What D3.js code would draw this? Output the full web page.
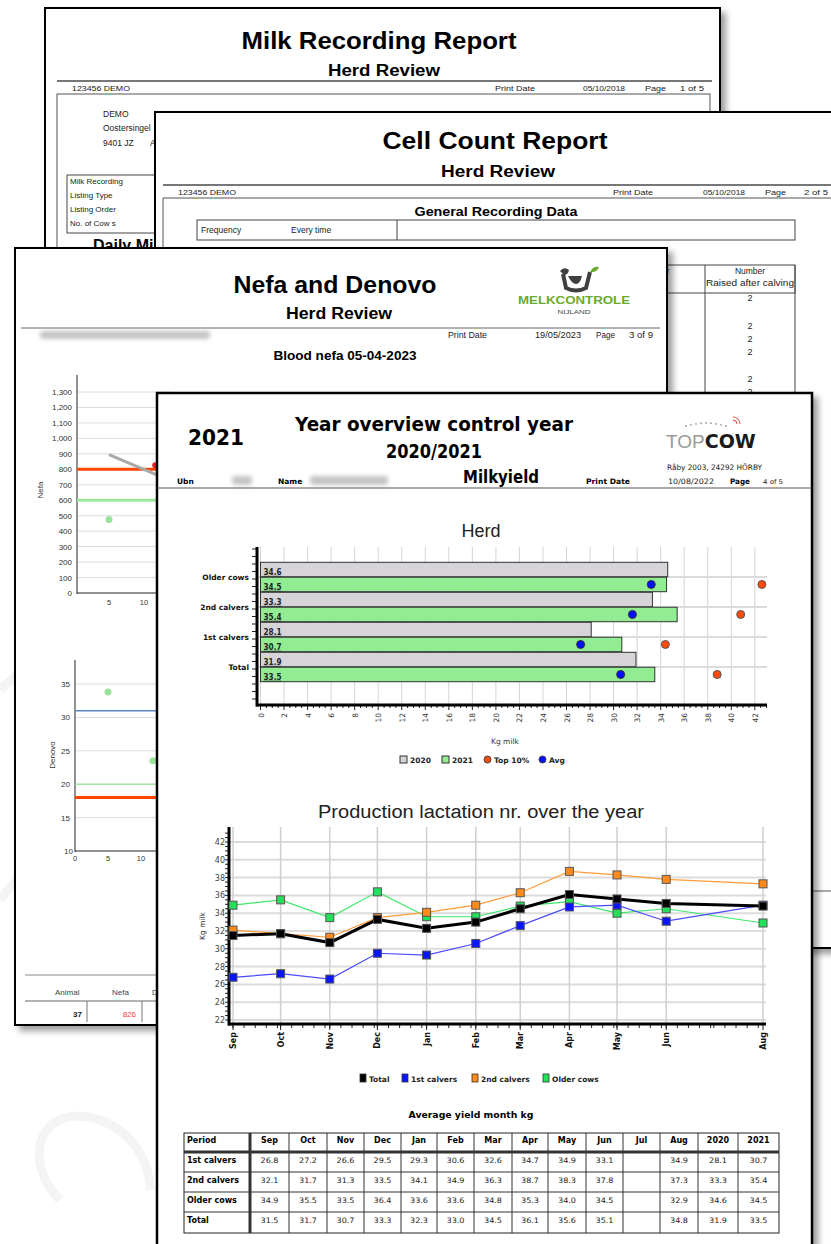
<!DOCTYPE html>
<html><head><meta charset="utf-8">
<script src="https://cdn.jsdelivr.net/npm/d3@7"></script>
<style>body{margin:0;background:#fff}svg{display:block}</style>
</head><body>
<svg id="c" width="831" height="1244"></svg>
<script>
// ---------------- DATA ----------------
const herdCategories = ["Older cows", "2nd calvers", "1st calvers", "Total"];
const herdYears = ["2020", "2021"];
const herd2020 = [34.6, 33.3, 28.1, 31.9];
const herd2021 = [34.5, 35.4, 30.7, 33.5];
const herdTop10 = [42.6, 40.8, 34.4, 38.8];
const herdAvg = [33.2, 31.6, 27.2, 30.6];
const herdTicks = [0,2,4,6,8,10,12,14,16,18,20,22,24,26,28,30,32,34,36,38,40,42];

const months = ["Sep","Oct","Nov","Dec","Jan","Feb","Mar","Apr","May","Jun","Jul","Aug"];
const monthDates = ["2020-09-01","2020-10-01","2020-11-01","2020-12-01","2021-01-01","2021-02-01","2021-03-01","2021-04-01","2021-05-01","2021-06-01","2021-07-01","2021-08-01"];
const seriesNames = ["Total", "1st calvers", "2nd calvers", "Older cows"];
const totalVals  = [31.5, 31.7, 30.7, 33.3, 32.3, 33.0, 34.5, 36.1, 35.6, 35.1, null, 34.8];
const firstVals  = [26.8, 27.2, 26.6, 29.5, 29.3, 30.6, 32.6, 34.7, 34.9, 33.1, null, 34.9];
const secondVals = [32.1, 31.7, 31.3, 33.5, 34.1, 34.9, 36.3, 38.7, 38.3, 37.8, null, 37.3];
const olderVals  = [34.9, 35.5, 33.5, 36.4, 33.6, 33.6, 34.8, 35.3, 34.0, 34.5, null, 32.9];
const prodTicks = [22,24,26,28,30,32,34,36,38,40,42];

const tableRows = ["1st calvers", "2nd calvers", "Older cows", "Total"];
const tableCols = ["Sep","Oct","Nov","Dec","Jan","Feb","Mar","Apr","May","Jun","Jul","Aug","2020","2021"];

const nefaTicks = [0,100,200,300,400,500,600,700,800,900,1000,1100,1200,1300];
const nefaDots = [[5, 475]];
const nefaRedDot = [[11.6, 826]];
const nefaTrend = [[5, 895], [12, 760]];
const nefaLimits = [800, 600];
const denovoTicks = [10,15,20,25,30,35];
const denovoDots = [[5, 33.8], [11.8, 23.5]];
const denovoLimits = [31, 20, 18];
const nefaXTicks = [5, 10];
const denovoXTicks = [0, 5, 10];

// ---------------- SETUP ----------------
const F = "Liberation Sans, Arial, sans-serif";
const T = "DejaVu Sans, Verdana, sans-serif";
const svg = d3.select("#c");
const defs = svg.append("defs");
const sh = defs.append("filter").attr("id","shadow").attr("x","-10%").attr("y","-10%").attr("width","125%").attr("height","125%");
sh.append("feDropShadow").attr("dx",5).attr("dy",5).attr("stdDeviation",3).attr("flood-color","#000").attr("flood-opacity",0.38);
defs.append("filter").attr("id","blur").attr("x","-20%").attr("y","-60%").attr("width","140%").attr("height","220%")
  .append("feGaussianBlur").attr("stdDeviation",2.2);

function txt(g, x, y, s, o = {}) {
  const t = g.append("text").attr("x", x).attr("y", y).text(s)
    .attr("font-family", o.ff || F).attr("font-size", o.fs || 8)
    .attr("font-weight", o.fw || "normal").attr("fill", o.fill || "#222")
    .attr("text-anchor", o.anchor || "start");
  if (o.w) t.attr("textLength", o.w).attr("lengthAdjust", "spacingAndGlyphs");
  if (o.ls) t.attr("letter-spacing", o.ls);
  return t;
}
function line(g, x1, y1, x2, y2, c, w) {
  return g.append("line").attr("x1",x1).attr("y1",y1).attr("x2",x2).attr("y2",y2).attr("stroke",c).attr("stroke-width",w);
}
function page(x, y, w, h, sw) {
  const g = svg.append("g");
  g.append("rect").attr("x",x).attr("y",y).attr("width",w).attr("height",h)
    .attr("fill","#fff").attr("stroke","#000").attr("stroke-width",sw).attr("filter","url(#shadow)");
  return g;
}
function blurBox(g, x, y, w, h) {
  g.append("rect").attr("x",x).attr("y",y).attr("width",w).attr("height",h).attr("rx",3)
    .attr("fill","#c4c4c4").attr("filter","url(#blur)");
}

// faint background decoration
const deco = svg.append("g").attr("fill","none").attr("stroke","#f4f4f4").attr("stroke-width",9);
deco.append("path").attr("d","M0,690 C40,650 90,640 110,700 C130,760 60,800 20,780");
deco.append("path").attr("d","M0,900 C30,860 70,830 110,860");
deco.append("path").attr("d","M60,1200 C20,1160 40,1100 100,1120 C140,1135 150,1170 150,1190");

// ---------------- PAGE 1: Milk Recording ----------------
const p1 = page(45, 8, 675, 262, 2);
txt(p1, 379, 49, "Milk Recording Report", {fs:24, fw:"bold", anchor:"middle", w:275, fill:"#000"});
txt(p1, 384, 76, "Herd Review", {fs:16, fw:"bold", anchor:"middle", w:112, fill:"#000"});
line(p1, 57, 81, 712, 81, "#777", 2);
txt(p1, 72, 91, "123456   DEMO", {fs:8, w:58});
txt(p1, 495, 91, "Print Date", {fs:8, w:40});
txt(p1, 583, 91, "05/10/2018", {fs:8, w:42});
txt(p1, 645, 91, "Page", {fs:8, w:21});
txt(p1, 680, 91, "1 of 5", {fs:8, w:24});
p1.append("rect").attr("x",57).attr("y",94).attr("width",653).attr("height",200).attr("fill","none").attr("stroke","#555").attr("stroke-width",1);
txt(p1, 103, 117, "DEMO", {fs:8.5});
txt(p1, 103, 131, "Oostersingel", {fs:8.5});
txt(p1, 103, 146, "9401 JZ", {fs:8.5});
txt(p1, 150, 146, "A", {fs:8.5});
p1.append("rect").attr("x",67).attr("y",175).attr("width",110).attr("height",58).attr("fill","none").attr("stroke","#444").attr("stroke-width",1);
["Milk Recording","Listing Type","Listing Order","No. of Cow s"].forEach((s,i)=>txt(p1, 70, 184 + i*14, s, {fs:8}));
txt(p1, 93, 251, "Daily Milk", {fs:16, fw:"bold", fill:"#000"});

// ---------------- PAGE 2: Cell Count ----------------
const p2 = page(155, 112, 700, 836, 2);
txt(p2, 495, 149, "Cell Count Report", {fs:24, fw:"bold", anchor:"middle", w:225, fill:"#000"});
txt(p2, 498, 177, "Herd Review", {fs:16, fw:"bold", anchor:"middle", w:114, fill:"#000"});
line(p2, 163, 185, 845, 185, "#777", 2);
txt(p2, 178, 195, "123456   DEMO", {fs:8, w:58});
txt(p2, 613, 195, "Print Date", {fs:8, w:40});
txt(p2, 703, 195, "05/10/2018", {fs:8, w:42});
txt(p2, 765, 195, "Page", {fs:8, w:21});
txt(p2, 804, 195, "2 of 5", {fs:8, w:24});
line(p2, 163, 198, 845, 198, "#555", 1);
line(p2, 163, 198, 163, 940, "#555", 1);
txt(p2, 496, 216, "General Recording Data", {fs:12, fw:"bold", anchor:"middle", w:163, fill:"#000"});
p2.append("rect").attr("x",197).attr("y",220).attr("width",598).attr("height",20).attr("fill","none").attr("stroke","#444").attr("stroke-width",1);
line(p2, 397, 220, 397, 240, "#444", 1);
txt(p2, 201, 233, "Frequency", {fs:8.5});
txt(p2, 291, 233, "Every time", {fs:8.5});
// right table
p2.append("rect").attr("x",600).attr("y",265).attr("width",195).attr("height",28).attr("fill","none").attr("stroke","#444").attr("stroke-width",1);
line(p2, 705, 265, 705, 420, "#444", 1);
line(p2, 795, 265, 795, 420, "#444", 1);
txt(p2, 662, 274, "er", {fs:8.5});
txt(p2, 750, 274, "Number", {fs:8.5, anchor:"middle"});
txt(p2, 750, 286, "Raised after calving", {fs:8.5, anchor:"middle", w:88});
[298, 326, 339, 352, 379, 392].forEach(y => txt(p2, 750, y + 3, "2", {fs:9, anchor:"middle"}));
line(p2, 163, 891, 845, 891, "#555", 1);

// ---------------- PAGE 3: Nefa and Denovo ----------------
const p3 = page(15, 248, 652, 777, 2);
txt(p3, 335, 293, "Nefa and Denovo", {fs:24, fw:"bold", anchor:"middle", w:203, fill:"#000"});
txt(p3, 339, 319, "Herd Review", {fs:16, fw:"bold", anchor:"middle", w:106, fill:"#000"});
// logo
const lg = p3.append("g");
lg.append("path").attr("d","M563,274 L566,288 Q576,293 586,288 L590,272").attr("fill","none").attr("stroke","#3f3f3f").attr("stroke-width",4);
lg.append("path").attr("d","M560,271 q4,-5 9,-1 q-1,5 -5,5 z").attr("fill","#3f3f3f");
lg.append("path").attr("d","M568,276 q4,8 8,8 q4,0 6,-8 z").attr("fill","#3f3f3f");
lg.append("path").attr("d","M590,272 q3,-6 9,-5 q-2,6 -9,5 z").attr("fill","#6aaa2a");
txt(lg, 518, 304, "MELKCONTROLE", {fs:11, fw:"bold", fill:"#6aaa2a", w:112});
txt(lg, 574, 314, "NIJLAND", {fs:5.5, anchor:"middle", fill:"#444", w:33});
line(p3, 21, 328, 660, 328, "#666", 1);
blurBox(p3, 40, 331, 170, 8);
txt(p3, 448, 338, "Print Date", {fs:8.5, w:39});
txt(p3, 535, 338, "19/05/2023", {fs:8.5, w:46});
txt(p3, 596, 338, "Page", {fs:8.5, w:19});
txt(p3, 629, 338, "3 of 9", {fs:8.5, w:24});
txt(p3, 345, 360, "Blood nefa 05-04-2023", {fs:13, fw:"bold", anchor:"middle", w:143, fill:"#000"});

// Nefa chart
const nx = d3.scaleLinear().domain([0, 10]).range([74, 144]);
const ny = d3.scaleLinear().domain([0, 1300]).range([593, 392]);
nefaTicks.forEach(v => {
  if (v > 0) line(p3, 77, ny(v), 170, ny(v), "#dedede", 1);
  txt(p3, 72, ny(v) + 3, d3.format(",")(v), {fs:8, anchor:"end", fill:"#333"});
});
line(p3, 77, 375, 77, 594, "#222", 1);
line(p3, 77, 593, 170, 593, "#222", 1);
nefaXTicks.forEach(v => txt(p3, nx(v), 605, String(v), {fs:7.5, anchor:"middle", fill:"#333"}));
line(p3, 77, ny(nefaLimits[0]), 170, ny(nefaLimits[0]), "#ff4500", 3);
line(p3, 77, ny(nefaLimits[1]), 170, ny(nefaLimits[1]), "#9be89b", 3);
p3.append("path").datum(nefaTrend).attr("d", d3.line().x(d=>nx(d[0])).y(d=>ny(d[1])))
  .attr("fill","none").attr("stroke","#a9a9a9").attr("stroke-width",3);
p3.selectAll(".nd").data(nefaDots).join("circle").attr("cx",d=>nx(d[0])).attr("cy",d=>ny(d[1])).attr("r",3.5).attr("fill","#9be29b");
p3.selectAll(".nr").data(nefaRedDot).join("circle").attr("cx",d=>nx(d[0])).attr("cy",d=>ny(d[1])).attr("r",3).attr("fill","#e8202a");
txt(p3, 0, 0, "Nefa", {fs:8, anchor:"middle", fill:"#333"}).attr("transform","translate(43,490) rotate(-90)");

// Denovo chart
const dx = d3.scaleLinear().domain([0, 10]).range([75, 141]);
const dy = d3.scaleLinear().domain([10, 35]).range([851, 684]);
denovoTicks.forEach(v => {
  if (v > 10) line(p3, 75, dy(v), 170, dy(v), "#dedede", 1);
  txt(p3, v === 10 ? 73 : 70, dy(v) + 3, String(v), {fs:8, anchor:"end", fill:"#333"});
});
line(p3, 75, 660, 75, 852, "#222", 1);
line(p3, 75, 851, 170, 851, "#222", 1);
denovoXTicks.forEach(v => txt(p3, dx(v), 861, String(v), {fs:7.5, anchor:"middle", fill:"#333"}));
line(p3, 75, dy(denovoLimits[0]), 170, dy(denovoLimits[0]), "#5b85c0", 1.5);
line(p3, 75, dy(denovoLimits[1]), 170, dy(denovoLimits[1]), "#a6e3a6", 1.5);
line(p3, 75, dy(denovoLimits[2]), 170, dy(denovoLimits[2]), "#ff4500", 3);
p3.selectAll(".dd").data(denovoDots).join("circle").attr("cx",d=>dx(d[0])).attr("cy",d=>dy(d[1])).attr("r",3.5).attr("fill","#9be29b");
txt(p3, 0, 0, "Denovo", {fs:8, anchor:"middle", fill:"#333"}).attr("transform","translate(55,755) rotate(-90)");

// bottom table of page 3
line(p3, 25, 975, 660, 975, "#888", 1);
txt(p3, 55, 995, "Animal", {fs:8, fill:"#444"});
txt(p3, 112, 995, "Nefa", {fs:8, fill:"#444"});
txt(p3, 152, 995, "D", {fs:8, fill:"#444"});
line(p3, 25, 1001, 660, 1001, "#666", 1);
line(p3, 87, 1001, 87, 1022, "#777", 1);
line(p3, 142, 1001, 142, 1022, "#777", 1);
txt(p3, 82, 1017, "37", {fs:8, fw:"bold", anchor:"end"});
txt(p3, 136, 1017, "826", {fs:8, anchor:"end", fill:"#ff3b3b"});

// ---------------- PAGE 4: Year overview ----------------
const p4 = page(157, 393, 655, 880, 2.5);
txt(p4, 188, 445, "2021", {ff:T, fs:22, fw:"bold", w:56, fill:"#000"});
txt(p4, 434, 431, "Year overview control year", {ff:T, fs:19, fw:"bold", anchor:"middle", w:278, fill:"#000"});
txt(p4, 434, 458, "2020/2021", {ff:T, fs:19, fw:"bold", anchor:"middle", w:96, fill:"#000"});
// topcow logo
const tc = p4.append("g");
d3.range(9).forEach(i => tc.append("circle").attr("cx", 686 + i*5).attr("cy", 426 - Math.sin(i/8*Math.PI)*3).attr("r",0.9).attr("fill","#999"));
tc.append("path").attr("d","M733,420 a4,4 0 0 1 4,4 M733,417 a7,7 0 0 1 7,7").attr("fill","none").attr("stroke","#e0443a").attr("stroke-width",1);
const tct = txt(tc, 666, 448, "", {ff:T, fs:19});
tct.append("tspan").text("TOP").attr("fill","#9a9a9a").attr("font-weight","normal").attr("font-family",F);
tct.append("tspan").text("COW").attr("fill","#1a1a1a").attr("font-weight","bold");
txt(p4, 667, 470, "Råby 2003, 24292 HÖRBY", {ff:T, fs:7.5, w:95});
txt(p4, 177, 484, "Ubn", {ff:T, fs:7.5, fw:"bold", fill:"#000"});
blurBox(p4, 232, 476, 20, 9);
txt(p4, 278, 484, "Name", {ff:T, fs:7.5, fw:"bold", fill:"#000"});
blurBox(p4, 310, 476, 78, 9);
txt(p4, 463, 483, "Milkyield", {ff:T, fs:17, fw:"bold", w:76, fill:"#000"});
txt(p4, 586, 484, "Print Date", {ff:T, fs:7.5, fw:"bold", w:44, fill:"#000"});
txt(p4, 668, 484, "10/08/2022", {ff:T, fs:7.5, w:46});
txt(p4, 730, 484, "Page", {ff:T, fs:7.5, fw:"bold", w:20, fill:"#000"});
txt(p4, 763, 484, "4 of 5", {ff:T, fs:6.5, w:20});
line(p4, 157, 488, 812, 488, "#555", 1);

// ---- Herd chart ----
txt(p4, 481, 537, "Herd", {fs:18, anchor:"middle", fill:"#222"});
const hx = d3.scaleLinear().domain([0, 43]).range([260.5, 766.6]);
const hy = d3.scaleBand().domain(herdCategories).range([562, 682]);
const hsub = d3.scaleBand().domain(herdYears).range([0, hy.bandwidth()]).paddingInner(0.03).paddingOuter(0.02);
const hg = p4.append("g");
herdTicks.forEach(v => line(hg, hx(v), 547, hx(v), 705, "#d4d4d4", 1));
herdCategories.forEach(c => line(hg, 257, hy(c) + hy.bandwidth()/2, 767, hy(c) + hy.bandwidth()/2, "#dcdcdc", 2));
const herdRows = herdCategories.map((c,i) => ({c, vals:[herd2020[i], herd2021[i]], top:herdTop10[i], avg:herdAvg[i]}));
herdRows.forEach(r => {
  r.vals.forEach((v, j) => {
    const y = hy(r.c) + hsub(herdYears[j]);
    hg.append("rect").attr("x", hx(0)).attr("y", y).attr("width", hx(v) - hx(0)).attr("height", hsub.bandwidth())
      .attr("fill", j === 0 ? "#d6d4d8" : "#92ec92").attr("stroke","#333").attr("stroke-width",1);
    txt(hg, hx(0) + 3, y + hsub.bandwidth() - 1.5, v.toFixed(1), {ff:T, fs:8, fw:"bold", fill:"#222", w:18});
    line(hg, hx(0) + 3, y + hsub.bandwidth() - 0.5, hx(0) + 21, y + hsub.bandwidth() - 0.5, "#333", 0.8);
  });
  const cy = hy(r.c) + hsub("2021") + hsub.bandwidth()/2;
  hg.append("circle").attr("cx", hx(r.top)).attr("cy", cy).attr("r",4).attr("fill","#ff4a0a").attr("stroke","#555").attr("stroke-width",1);
  hg.append("circle").attr("cx", hx(r.avg)).attr("cy", cy).attr("r",4).attr("fill","#0010ff").attr("stroke","#333").attr("stroke-width",1);
  txt(hg, 249, hy(r.c) + hy.bandwidth()/2 + 3, r.c, {ff:T, fs:7.5, fw:"bold", anchor:"end", fill:"#111"});
});
// axes
d3.range(0, 43.01, 0.5).forEach(v => line(hg, hx(v), 705, hx(v), v % 2 === 0 ? 710 : 708, "#222", 1));
d3.range(549, 705, 7.5).forEach(y => line(hg, 252, y, 257, y, "#222", 1));
line(hg, 257, 547, 257, 706.5, "#000", 3);
line(hg, 256, 705, 767, 705, "#000", 3);
herdTicks.forEach(v => txt(hg, 0, 0, String(v), {ff:T, fs:7.5, anchor:"end", fill:"#333"})
  .attr("transform", `translate(${hx(v) + 3},713) rotate(-90)`));
txt(hg, 505, 744, "Kg milk", {ff:T, fs:7.5, anchor:"middle", fill:"#333"});
// legend
const hl = [["2020","rect","#d6d4d8",400],["2021","rect","#92ec92",442],["Top 10%","circ","#ff4a0a",484],["Avg","circ","#0010ff",539]];
hl.forEach(([s,k,c,x]) => {
  if (k === "rect") hg.append("rect").attr("x",x).attr("y",756).attr("width",7).attr("height",7).attr("fill",c).attr("stroke","#333");
  else hg.append("circle").attr("cx",x+3.5).attr("cy",759.5).attr("r",3.5).attr("fill",c).attr("stroke","#444");
  txt(hg, x + 10, 763, s, {ff:T, fs:7.5, fw:"bold", fill:"#222"});
});

// ---- Production lactation chart ----
txt(p4, 481, 818, "Production lactation nr. over the year", {fs:18, anchor:"middle", fill:"#222", w:326});
const dates = monthDates.map(d => new Date(d + "T00:00:00Z"));
const px = d3.scaleUtc().domain([dates[0], dates[11]]).range([233, 763]);
const py = d3.scaleLinear().domain([22, 42]).range([1020, 842]);
const pg = p4.append("g");
prodTicks.forEach(v => line(pg, 229, py(v), 766, py(v), "#dcdcdc", 2));
months.forEach((m,i) => { if (m !== "Jul") line(pg, px(dates[i]), 827, px(dates[i]), 1024, "#cfcfcf", 1.5); });
// minor ticks
d3.utcDay.every(7).range(dates[0], dates[11]).forEach(d => line(pg, px(d), 1024, px(d), 1028, "#222", 1));
months.forEach((m,i) => { if (m !== "Jul") line(pg, px(dates[i]), 1024, px(dates[i]), 1030, "#222", 1); });
d3.range(22, 43.5, 0.5).forEach(v => line(pg, 225, py(v), 229, py(v), "#222", 1));
line(pg, 229, 827, 229, 1025.5, "#000", 3);
line(pg, 228, 1024, 766, 1024, "#000", 3);
const gy = pg.append("g").attr("transform","translate(227,0)")
  .call(d3.axisLeft(py).tickValues(prodTicks).tickSize(0).tickPadding(2));
gy.select(".domain").remove();
gy.selectAll("text").attr("font-size",8).attr("font-family",T).attr("fill","#444");
months.forEach((m,i) => { if (m !== "Jul")
  txt(pg, 0, 0, m, {ff:T, fs:8, fw:"bold", anchor:"end", fill:"#111"})
    .attr("transform", `translate(${px(dates[i]) + 3},1032) rotate(-90)`); });
txt(pg, 0, 0, "Kg milk", {ff:T, fs:7.5, anchor:"middle", fill:"#333"}).attr("transform","translate(205,926) rotate(-90)");

const series = [
  {name:"Older cows", vals:olderVals, line:"#3ee86a", mark:"#22e05a", w:1.2},
  {name:"2nd calvers", vals:secondVals, line:"#ff9c3a", mark:"#ff8a1c", w:1.2},
  {name:"1st calvers", vals:firstVals, line:"#4a4aff", mark:"#0a14ff", w:1.2},
  {name:"Total", vals:totalVals, line:"#000", mark:"#000", w:3}
];
const ln = d3.line().x(d => px(d.d)).y(d => py(d.v));
series.forEach(s => {
  const pts = s.vals.map((v,i) => ({d:dates[i], v})).filter(p => p.v !== null);
  pg.append("path").datum(pts).attr("d", ln).attr("fill","none").attr("stroke", s.line).attr("stroke-width", s.w);
  pg.selectAll(null).data(pts).join("rect")
    .attr("x", p => px(p.d) - 4).attr("y", p => py(p.v) - 4).attr("width",8).attr("height",8)
    .attr("fill", s.mark).attr("stroke","#555").attr("stroke-width",1);
});
// legend
const pl = [["Total","#000",360],["1st calvers","#0a14ff",402],["2nd calvers","#ff8a1c",472],["Older cows","#22e05a",543]];
pl.forEach(([s,c,x]) => {
  pg.append("rect").attr("x",x).attr("y",1074).attr("width",6).attr("height",8).attr("fill",c).attr("stroke","#333").attr("stroke-width",0.8);
  txt(pg, x + 9, 1082, s, {ff:T, fs:7.5, fw:"bold", fill:"#222"});
});

// ---- Table ----
txt(p4, 471, 1118, "Average yield month kg", {ff:T, fs:9.5, fw:"bold", anchor:"middle", w:125, fill:"#000"});
const tg = p4.append("g");
const colEdges = [184, 250, 289, 327, 364, 401, 437, 474, 512, 548, 586, 623, 660, 698, 738, 779];
const rowEdges = [1133, 1152, 1172, 1192, 1212, 1233];
const monthVals = {"1st calvers": firstVals, "2nd calvers": secondVals, "Older cows": olderVals, "Total": totalVals};
const yearMap = {};
herdCategories.forEach((c,i) => yearMap[c] = [herd2020[i], herd2021[i]]);
tg.append("rect").attr("x",184).attr("y",1133).attr("width",595).attr("height",100).attr("fill","none").attr("stroke","#222").attr("stroke-width",1);
rowEdges.slice(1,-1).forEach((y,i) => line(tg, 184, y, 779, y, "#333", i === 0 ? 3 : 1));
colEdges.slice(1,-1).forEach((x,i) => line(tg, x, 1133, x, 1233, "#333", i === 0 ? 3 : 1));
txt(tg, 187, 1143, "Period", {ff:T, fs:8, fw:"bold", fill:"#000"});
tableCols.forEach((c,j) => txt(tg, (colEdges[j+1] + colEdges[j+2]) / 2, 1143, c, {ff:T, fs:8, fw:"bold", anchor:"middle", fill:"#000"}));
tableRows.forEach((r,i) => {
  const y = rowEdges[i+1] + 11;
  txt(tg, 187, y, r, {ff:T, fs:8, fw:"bold", fill:"#000"});
  const vals = monthVals[r].concat(yearMap[r]);
  vals.forEach((v,j) => { if (v !== null)
    txt(tg, (colEdges[j+1] + colEdges[j+2]) / 2, y, v.toFixed(1), {ff:T, fs:7.5, anchor:"middle", fill:"#222", w:18}); });
});
</script>
</body></html>
